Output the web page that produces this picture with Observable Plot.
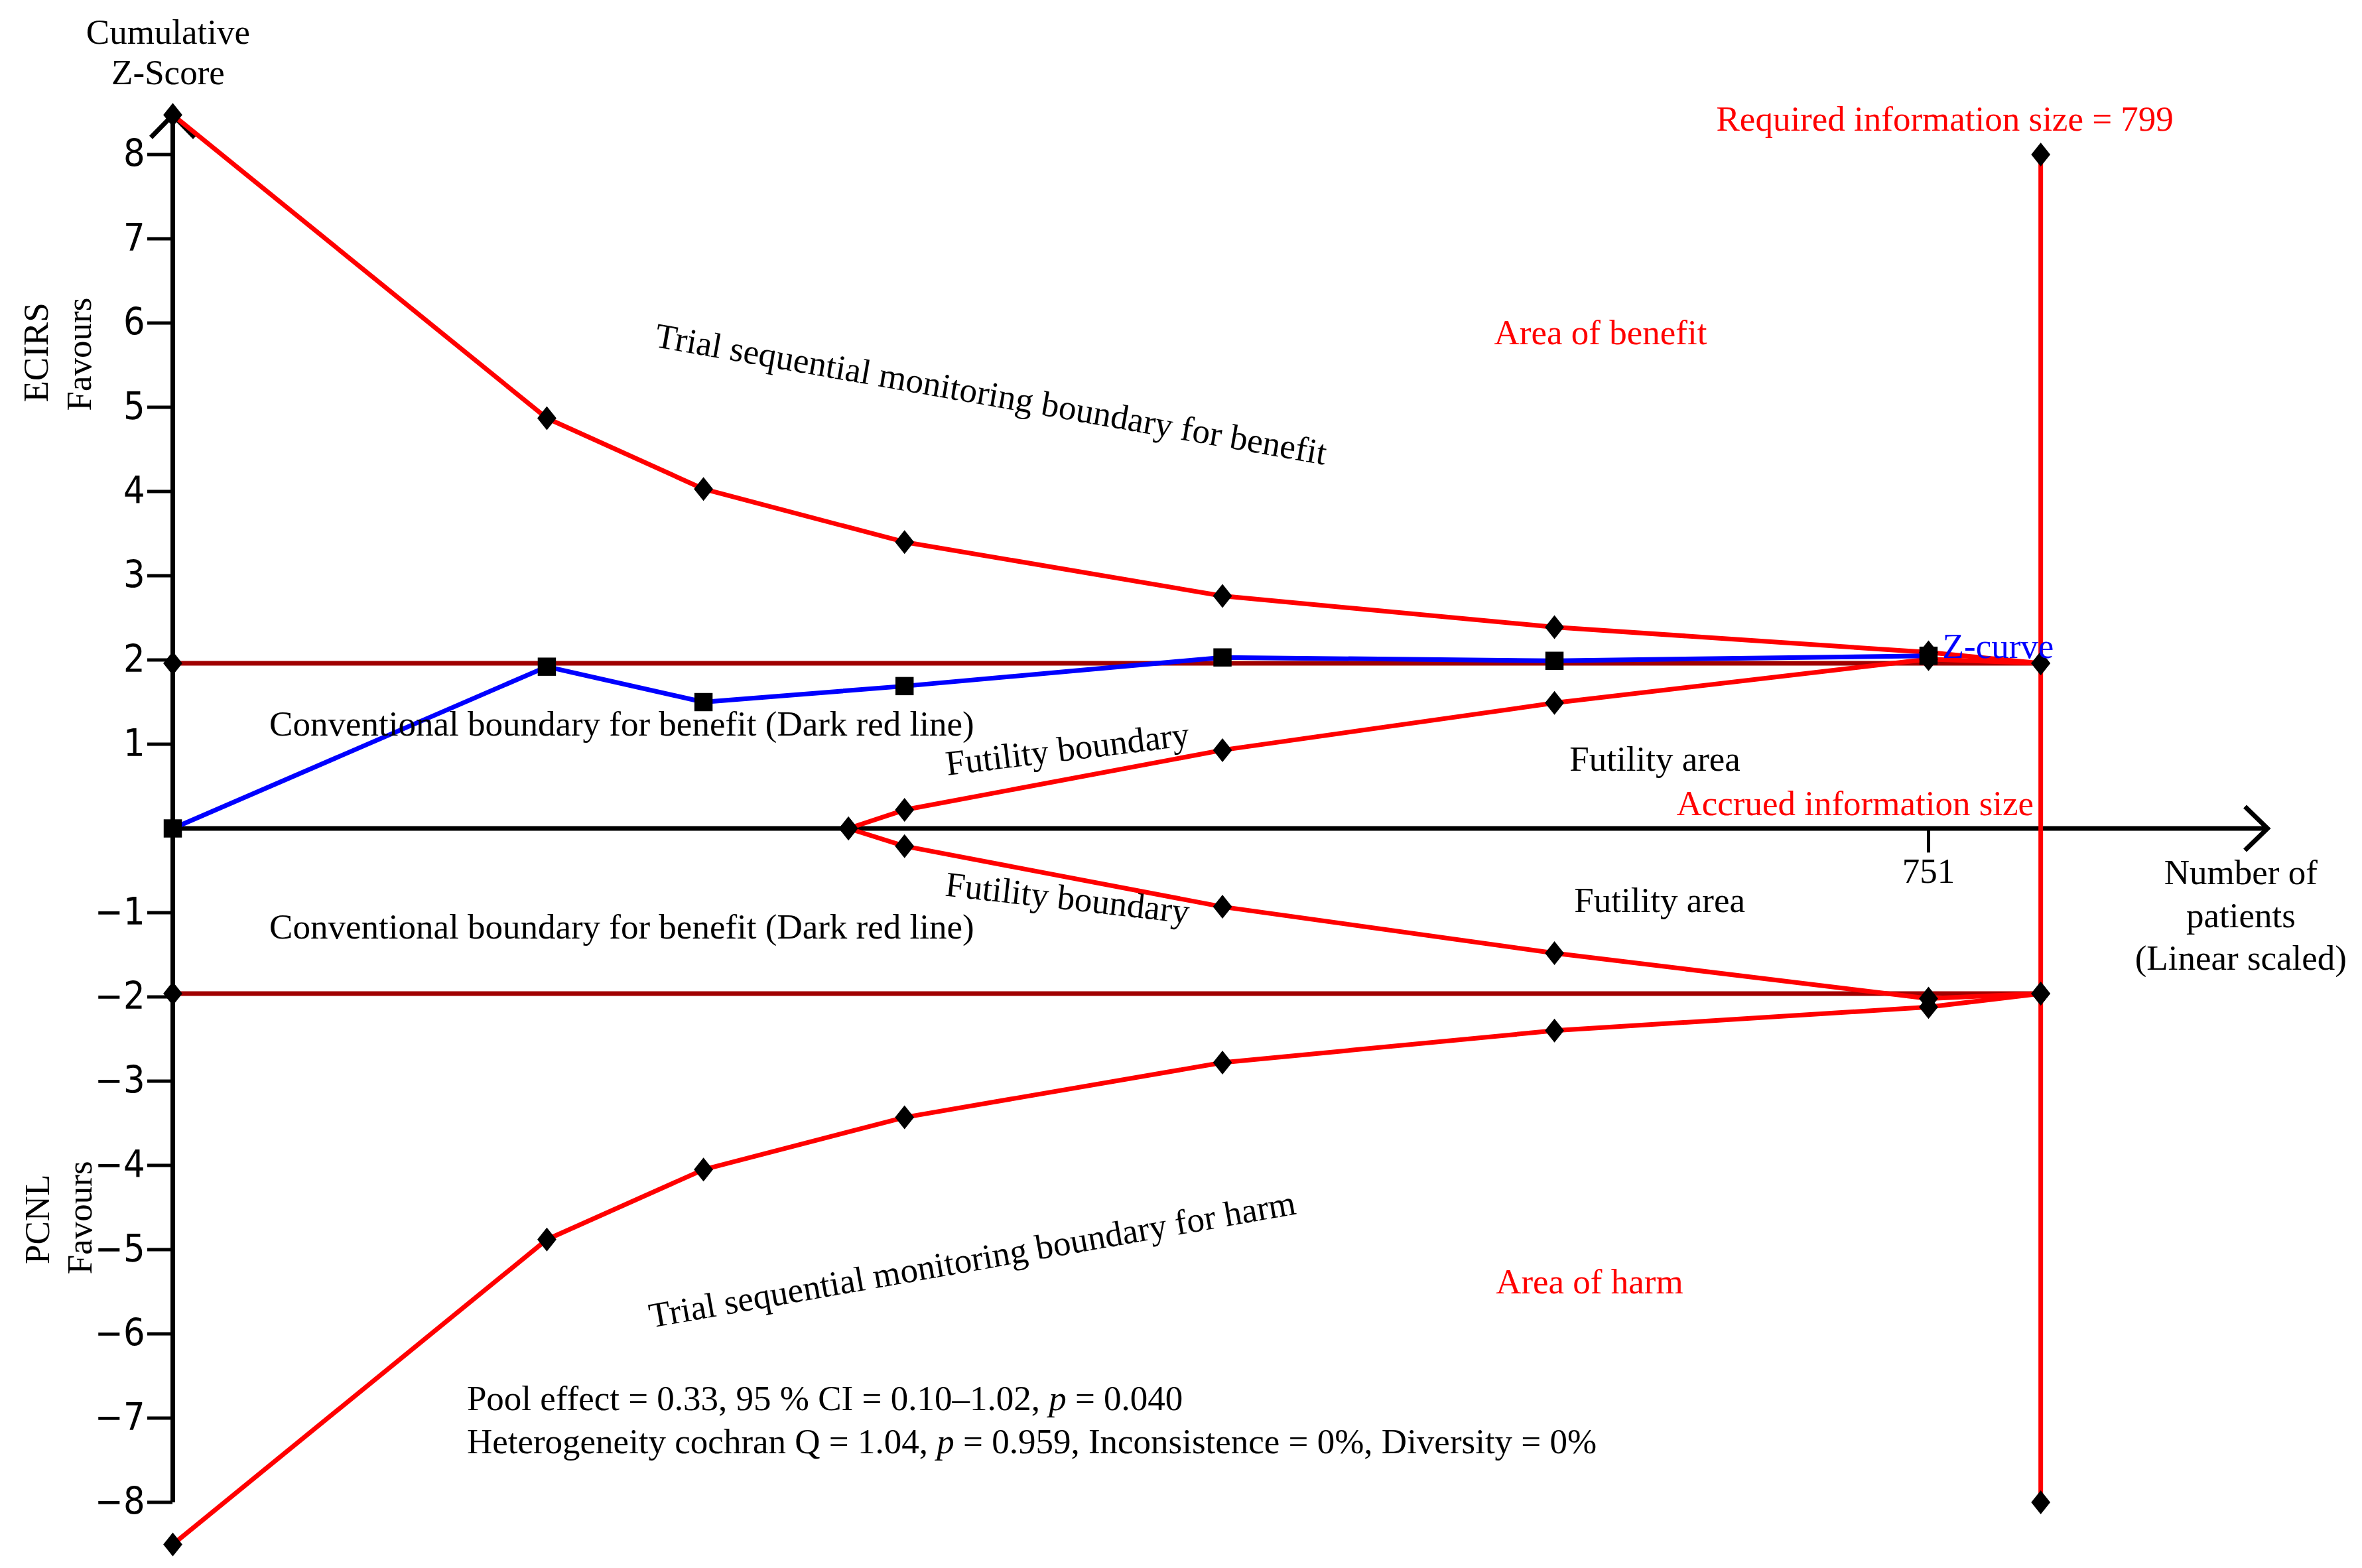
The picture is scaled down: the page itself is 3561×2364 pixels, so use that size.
<!DOCTYPE html>
<html>
<head>
<meta charset="utf-8">
<script src="https://cdn.jsdelivr.net/npm/d3@7"></script>
<script src="https://cdn.jsdelivr.net/npm/@observablehq/plot@0.6"></script>
<style>
  html, body { margin: 0; padding: 0; background: #ffffff; }
  #chart svg { display: block; }
</style>
</head>
<body>
<div id="chart"></div>
<script>
// ---------------- data ----------------
const trialN          = [0, 160, 227, 313, 449, 591, 751];           // cumulative patients
const zCurve          = [0, 1.92, 1.50, 1.69, 2.03, 1.99, 2.05];
const boundaryN       = [0, 160, 227, 313, 449, 591, 751, 799];
const benefitBoundary = [8.47, 4.87, 4.03, 3.40, 2.76, 2.39, 2.09, 1.96];
const harmBoundary    = [-8.50, -4.88, -4.05, -3.43, -2.78, -2.40, -2.12, -1.96];
const futilityN       = [289, 313, 449, 591, 751, 799];
const futilityUpper   = [0, 0.22, 0.93, 1.49, 2.01, 1.96];
const futilityLower   = [0, -0.21, -0.93, -1.48, -2.02, -1.96];
const conventionalZ   = [1.96, -1.96];
const requiredSize    = 799;
const risZ            = [-8, 8];
const xAxisEnd        = 896;
const yTickValues     = [-8, -7, -6, -5, -4, -3, -2, -1, 1, 2, 3, 4, 5, 6, 7, 8];
const xTickValues     = [751];
const statsLines = [
  "Pool effect = 0.33, 95 % CI = 0.10\u20131.02, p = 0.040",
  "Heterogeneity cochran Q = 1.04, p = 0.959, Inconsistence = 0%, Diversity = 0%"
];
const xAxisTitle = ["Number of", "patients", "(Linear scaled)"];

// ---------------- layout ----------------
const W = 3561, H = 2364;
const xDomainMax = 900;
const pxPerPatient = 3.5246, zeroY = 1248.5, pxPerZ = 127.0;
const yDomain = [-8.7, 9];
const marginLeft = 260;
const marginRight = W - (marginLeft + xDomainMax * pxPerPatient);
const marginTop = zeroY - yDomain[1] * pxPerZ;
const marginBottom = H - (zeroY - yDomain[0] * pxPerZ);

const RED = "#ff0000", DARKRED = "#a00000", BLUE = "#0000ff";
const SERIF = "Liberation Serif, Times New Roman, serif";
const FS = 53, LW = 7;

const tbl = (xs, ys) => xs.map((x, i) => ({x, y: ys[i]}));

const chevron = (color) => {
  const m = d3.create("svg:marker")
    .attr("viewBox", "-40 -40 80 80")
    .attr("markerWidth", 80)
    .attr("markerHeight", 80)
    .attr("markerUnits", "userSpaceOnUse")
    .attr("orient", "auto")
    .attr("fill", "none")
    .attr("stroke", color)
    .attr("stroke-width", 7)
    .attr("stroke-linejoin", "miter");
  m.append("path").attr("d", "M-34,-33L0,0L-34,33");
  return m.node();
};

const tallDiamond = {
  draw(context, size) {
    const h = Math.sqrt(size) * 0.7, w = h * 0.8;
    context.moveTo(0, -h);
    context.lineTo(w, 0);
    context.lineTo(0, h);
    context.lineTo(-w, 0);
    context.closePath();
  }
};

const note = (t, x, y, o = {}) =>
  Plot.text([t], {x: [x], y: [y], text: [t], fontFamily: SERIF, fontSize: FS, fill: "black", ...o});

const diamondPts = [
  ...tbl(boundaryN, benefitBoundary),
  ...tbl(boundaryN, harmBoundary),
  ...tbl(futilityN, futilityUpper),
  ...tbl(futilityN, futilityLower),
  ...tbl([requiredSize, requiredSize], risZ),
  ...tbl([0, 0], conventionalZ)
];

const plot = Plot.plot({
  width: W,
  height: H,
  marginLeft, marginRight, marginTop, marginBottom,
  x: {domain: [0, xDomainMax], axis: null},
  y: {domain: yDomain, axis: null},
  style: {background: "#ffffff", fontFamily: SERIF, overflow: "visible"},
  marks: [
    // y ticks and labels
    Plot.axisY(yTickValues, {
      anchor: "left", tickSize: 38, tickPadding: 4, fontSize: 57,
      fontFamily: "DejaVu Sans Condensed, DejaVu Sans, sans-serif",
      tickFormat: d => (d < 0 ? "\u2212" : "") + Math.abs(d),
      strokeWidth: 5, stroke: "black", fill: "black", label: null
    }),
    // axis lines with arrow heads
    Plot.line(tbl([0, xAxisEnd], [0, 0]), {x: "x", y: "y", stroke: "black", strokeWidth: 7, strokeLinecap: "butt", markerEnd: chevron}),
    Plot.line(tbl([0, 0], [risZ[0], benefitBoundary[0]]), {x: "x", y: "y", stroke: "black", strokeWidth: 7, strokeLinecap: "butt", markerEnd: chevron}),
    // x tick at accrued information size
    Plot.ruleX(xTickValues, {y1: 0, y2: -0.29, stroke: "black", strokeWidth: 5}),
    Plot.text(xTickValues, {x: d => d, y: -0.51, text: d => String(d), fontFamily: SERIF, fontSize: FS}),
    // conventional boundaries
    Plot.ruleY(conventionalZ, {x1: 0, x2: requiredSize, stroke: DARKRED, strokeWidth: LW}),
    // monitoring & futility boundaries
    Plot.line(tbl(boundaryN, benefitBoundary), {x: "x", y: "y", stroke: RED, strokeWidth: LW}),
    Plot.line(tbl(boundaryN, harmBoundary), {x: "x", y: "y", stroke: RED, strokeWidth: LW}),
    Plot.line(tbl(futilityN, futilityUpper), {x: "x", y: "y", stroke: RED, strokeWidth: LW}),
    Plot.line(tbl(futilityN, futilityLower), {x: "x", y: "y", stroke: RED, strokeWidth: LW}),
    // required information size
    Plot.ruleX([requiredSize], {y1: risZ[0], y2: risZ[1], stroke: RED, strokeWidth: LW}),
    // Z-curve
    Plot.line(tbl(trialN, zCurve), {x: "x", y: "y", stroke: BLUE, strokeWidth: LW}),
    // point symbols
    Plot.dot(diamondPts, {x: "x", y: "y", symbol: tallDiamond, r: 14.5, fill: "black", stroke: "none"}),
    Plot.dot(tbl(trialN, zCurve), {x: "x", y: "y", symbol: "square", r: 15.5, fill: "black", stroke: "none"}),

    // annotations
    note("Cumulative", -2, 9.45),
    note("Z-Score", -2, 8.97),
    note("ECIRS", -58.2, 5.65, {rotate: -90}),
    note("Favours", -39.8, 5.63, {rotate: -90}),
    note("PCNL", -57.6, -4.64, {rotate: -90}),
    note("Favours", -39.5, -4.62, {rotate: -90}),
    note("Required information size = " + requiredSize, 758, 8.42, {fill: RED}),
    note("Area of benefit", 610.7, 5.88, {fill: RED}),
    note("Area of harm", 606, -5.39, {fill: RED}),
    note("Trial sequential monitoring boundary for benefit", 350, 5.15, {rotate: 10}),
    note("Trial sequential monitoring boundary for harm", 342, -5.12, {rotate: -10}),
    note("Conventional boundary for benefit (Dark red line)", 41.3, 1.234, {textAnchor: "start"}),
    note("Conventional boundary for benefit (Dark red line)", 41.3, -1.17, {textAnchor: "start"}),
    note("Futility boundary", 382.7, 0.94, {rotate: -7}),
    note("Futility boundary", 382.7, -0.83, {rotate: 6.5}),
    note("Futility area", 634, 0.82),
    note("Futility area", 636, -0.86),
    note("Accrued information size", 796, 0.295, {fill: RED, textAnchor: "end"}),
    note("Z-curve", 757, 2.16, {fill: BLUE, textAnchor: "start"}),
    note(xAxisTitle[0], 884.6, -0.53),
    note(xAxisTitle[1], 884.6, -1.04),
    note(xAxisTitle[2], 884.6, -1.54),
    note(statsLines[0], 125.8, -6.77, {textAnchor: "start"}),
    note(statsLines[1], 125.8, -7.28, {textAnchor: "start"})
  ]
});

// italic "p" in the statistics lines
d3.select(plot).selectAll("text").each(function () {
  const t = this.textContent;
  if (!/\bp = /.test(t) || this.children.length) return;
  const parts = t.split(/\b(p)(?= = )/);
  this.textContent = "";
  parts.forEach((s, i) => {
    const ts = d3.select(this).append("tspan").text(s);
    if (i % 2 === 1) ts.attr("font-style", "italic");
  });
});
// condensed sans for the y tick labels
d3.select(plot).selectAll('g[aria-label="y-axis tick label"] text').style("font-stretch", "condensed");

document.getElementById("chart").append(plot);
</script>
</body>
</html>
